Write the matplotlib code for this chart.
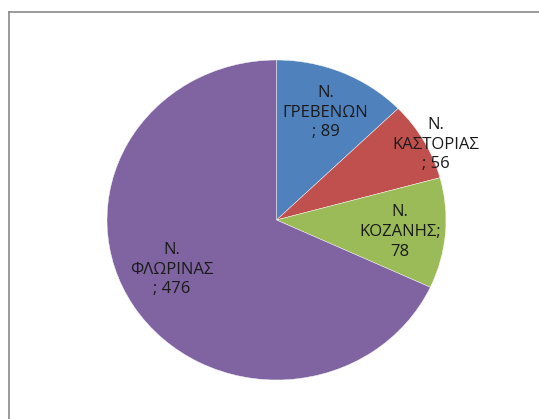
import matplotlib.pyplot as plt
from matplotlib.lines import Line2D

# data
labels = ["Ν.\nΓΡΕΒΕΝΩΝ\n; 89", "Ν.\nΚΑΣΤΟΡΙΑΣ\n; 56", "Ν.\nΚΟΖΑΝΗΣ;\n78", "Ν.\nΦΛΩΡΙΝΑΣ\n; 476"]
values = [89, 56, 78, 476]
colors = ["#4F81BD", "#C0504D", "#9BBB59", "#8064A2"]

# label centres (pie units, radius = 1)
label_pos = [(0.29, 0.67), (0.94, 0.47), (0.73, -0.075), (-0.62, -0.31)]

W, H = 539, 419
fig = plt.figure(figsize=(W / 100, H / 100), dpi=100)
fig.patch.set_facecolor("white")

# pie box in pixels: x 107..446, y 60..380 (slightly wider than tall)
ax = fig.add_axes([107 / W, 1 - 380 / H, (446 - 107) / W, (380 - 60) / H])
ax.pie(values, colors=colors, startangle=90, counterclock=False, radius=1,
       wedgeprops=dict(linewidth=0.3, edgecolor="white"))
ax.set_aspect("auto")
ax.set_xlim(-1, 1)
ax.set_ylim(-1, 1)
ax.axis("off")

for lab, (x, y) in zip(labels, label_pos):
    ax.text(x, y, lab, ha="center", va="center", fontsize=12,
            family=["Open Sans", "DejaVu Sans"], color="#1a1a1a",
            linespacing=1.3, multialignment="center")

# frame lines (left and top only visible)
fig.add_artist(Line2D([9 / W, 9 / W], [0, 1 - 12 / H], transform=fig.transFigure,
                      color="#8a8a8a", lw=1.2))
fig.add_artist(Line2D([9 / W, 1], [1 - 12 / H, 1 - 12 / H], transform=fig.transFigure,
                      color="#8a8a8a", lw=1.2))

fig.savefig("out.png", dpi=100)
